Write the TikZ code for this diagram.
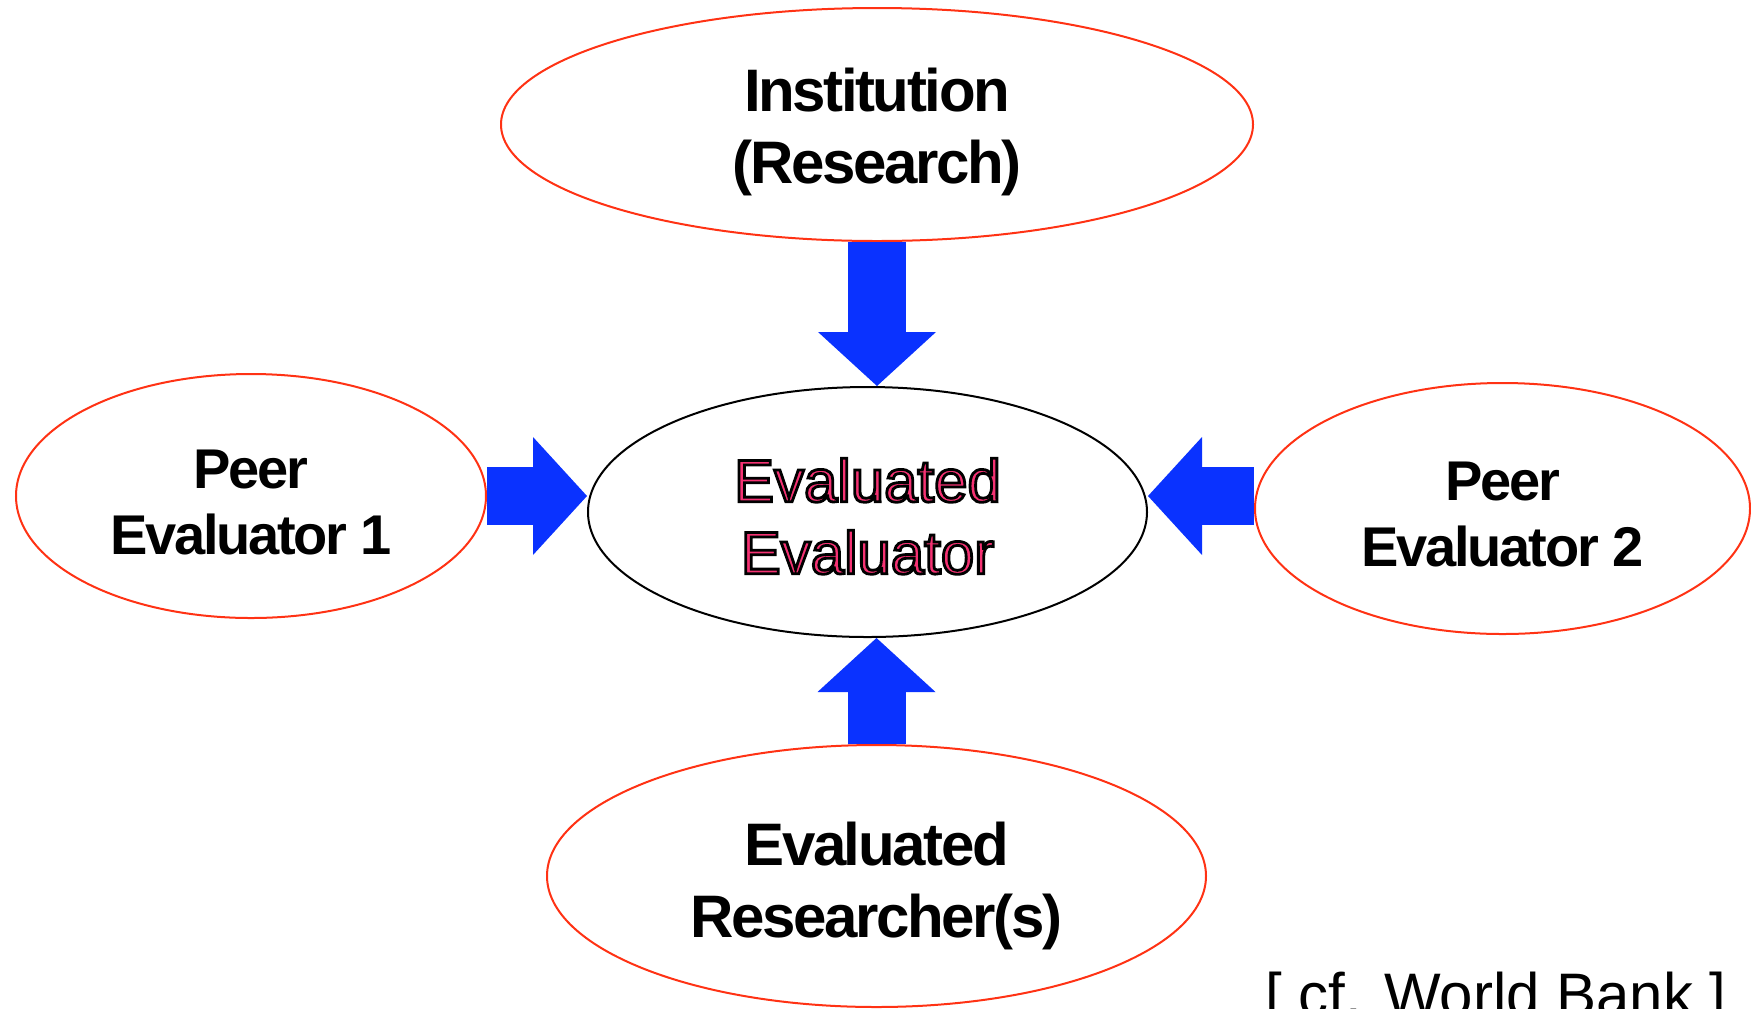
\documentclass[tikz,border=0pt]{standalone}
\usepackage{fontspec}
\setmainfont{Liberation Sans}
\newfontfamily\tightfont[LetterSpace=-4]{Liberation Sans}
\usetikzlibrary{shapes.geometric,arrows.meta}
\definecolor{ovalred}{RGB}{255,50,20}
\definecolor{arrowblue}{RGB}{10,50,255}
\definecolor{evalpink}{RGB}{245,50,115}
\newcommand{\txtdrop}[1]{\rule{0pt}{#1}}
% pink letters with a black rim
\newcommand{\rimmed}[1]{\special{pdf:literal direct 2 Tr 1.4 w 0 0 0 RG}#1\special{pdf:literal direct 0 Tr}}
\tikzstyle{party}  = [ellipse,
                      draw=ovalred,
                      line width=1pt,
                      inner sep=0pt,
                      align=center,
                      font=\tightfont\bfseries\fontsize{30}{36}\selectfont]
\tikzstyle{peer}   = [party,
                      font=\tightfont\bfseries\fontsize{28}{33}\selectfont]
\tikzstyle{centre} = [ellipse,
                      draw=black,
                      line width=1pt,
                      inner sep=0pt,
                      align=center,
                      text=evalpink,
                      font=\fontsize{30}{36}\selectfont]
\tikzstyle{blockarrow} = [draw=arrowblue,
                          line width=29pt,
                          -{Triangle[width=59pt,length=27pt,line width=0pt]}]

\begin{document}
\begin{tikzpicture}[x=0.5pt,y=-0.5pt]

  \path[use as bounding box, clip] (0,0) rectangle (1751,1008);

  % Nodes
  \node[party, minimum width=376pt, minimum height=116.5pt] (inst) at (877,124.5)
    {\txtdrop{29.7pt}Institution\\(Research)};
  \node[centre, minimum width=279.5pt, minimum height=125pt] (eval) at (867.5,512)
    {\txtdrop{26pt}\rimmed{Evaluated}\\\rimmed{Evaluator}};
  \node[peer, minimum width=235pt, minimum height=122pt] (peerA) at (251,496)
    {\txtdrop{25.6pt}Peer\\Evaluator 1};
  \node[peer, minimum width=247.5pt, minimum height=125.5pt] (peerB) at (1502.5,508.5)
    {\txtdrop{25pt}Peer\\Evaluator 2};
  \node[party, minimum width=329.5pt, minimum height=131pt] (res) at (876.5,876)
    {\txtdrop{32pt}Evaluated\\Researcher(s)};
  \node[anchor=base west, inner sep=0pt, font=\fontsize{30}{36}\selectfont] (note) at (1265,1015)
    {[ cf. World Bank ]};

  % Edges
  \draw[blockarrow] (inst.south) -- (inst.south |- eval.north);
  \draw[blockarrow] (peerA.east) -- (eval.west |- peerA.east);
  \draw[blockarrow] (peerB.west |- peerA.east) -- (eval.east |- peerA.east);
  \draw[blockarrow] (res.north) -- (res.north |- eval.south);

\end{tikzpicture}
\end{document}
